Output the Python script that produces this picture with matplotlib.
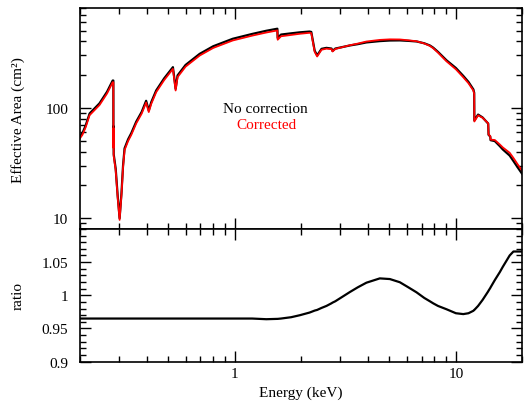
import numpy as np
import matplotlib
matplotlib.use("Agg")
import matplotlib.pyplot as plt
from matplotlib.ticker import FixedLocator, NullFormatter, LogLocator, MultipleLocator

plt.rcParams['font.family'] = ['Liberation Serif', 'DejaVu Serif']
plt.rcParams['font.size'] = 11

# energy grid (keV), effective area without correction (cm^2), ratio corrected/uncorrected
energy = [0.200, 0.205, 0.212, 0.221, 0.245, 0.265, 0.281, 0.283, 0.2832, 0.2836,
          0.2840, 0.290, 0.296, 0.302, 0.308, 0.313, 0.318, 0.330, 0.341, 0.359,
          0.380, 0.398, 0.409, 0.420, 0.442, 0.480, 0.526, 0.533, 0.541, 0.552,
          0.600, 0.695, 0.800, 0.980, 1.200, 1.390, 1.560, 1.565, 1.620, 1.800,
          1.970, 2.180, 2.220, 2.300, 2.360, 2.470, 2.600, 2.740, 2.770, 2.850,
          3.320, 3.600, 3.940, 4.530, 5.030, 5.580, 6.100, 6.640, 7.200, 7.630,
          7.890, 8.300, 9.070, 10.00, 10.80, 11.40, 12.00, 12.10, 12.12, 12.60,
          13.20, 14.00, 14.05, 14.30, 14.35, 15.00, 15.80, 16.30, 17.50, 18.20,
          19.00, 20.00]
area_nocorr = [55, 59, 69, 89, 110, 140, 177, 177, 45, 68,
               38, 28, 16, 10, 17, 30, 43, 52, 59, 75,
               92, 116, 95, 113, 144, 185, 234, 190, 149, 197,
               245, 309, 362, 423, 468, 500, 522, 430, 462, 474,
               484, 492, 488, 330, 299, 343, 350, 345, 328, 345,
               368, 378, 392, 403, 408, 409, 405, 400, 385, 368,
               352, 322, 270, 230, 195, 172, 147, 137, 77, 87,
               82, 72, 57, 55, 51, 50, 45, 42, 37, 33,
               29, 25]
ratio = [0.965, 0.965, 0.965, 0.965, 0.965, 0.965, 0.965, 0.965, 0.965, 0.965,
         0.965, 0.965, 0.965, 0.965, 0.965, 0.965, 0.965, 0.965, 0.965, 0.965,
         0.965, 0.965, 0.965, 0.965, 0.965, 0.965, 0.965, 0.965, 0.965, 0.965,
         0.965, 0.965, 0.965, 0.965, 0.965, 0.964, 0.9645, 0.9645, 0.965, 0.967,
         0.970, 0.974, 0.975, 0.977, 0.978, 0.981, 0.984, 0.988, 0.989, 0.991,
         1.005, 1.012, 1.019, 1.0255, 1.0245, 1.0197, 1.012, 1.0045, 0.996, 0.991,
         0.988, 0.984, 0.979, 0.973, 0.9717, 0.973, 0.9767, 0.978, 0.978, 0.984,
         0.993, 1.006, 1.007, 1.011, 1.012, 1.023, 1.035, 1.043, 1.060, 1.066,
         1.066, 1.066]

E = np.array(energy)
area = np.array(area_nocorr)
r = np.array(ratio)
area_corr = area * r

fig = plt.figure(figsize=(5.25, 4.02), dpi=100)
ax1 = fig.add_axes([0.1524, 0.428, 0.8428, 0.549])
ax2 = fig.add_axes([0.1524, 0.0978, 0.8428, 0.3302], sharex=ax1)

ax1.plot(E, area, color='black', lw=1.6)
ax1.plot(E, area_corr, color='red', lw=1.3)
ax1.set_xscale('log')
ax1.set_yscale('log')
ax1.set_xlim(0.2, 20)
ax1.set_ylim(8, 800)
ax1.yaxis.set_major_locator(FixedLocator([10, 100]))
ax1.set_yticklabels(['10', '100'])
ax1.yaxis.set_minor_locator(LogLocator(subs=np.arange(2, 10)))
ax1.yaxis.set_minor_formatter(NullFormatter())
ax1.set_ylabel('Effective Area (cm²)')
ax1.tick_params(labelbottom=False)

ax1.text(0.418, 0.548, 'No correction', transform=ax1.transAxes,
         ha='center', va='center', color='black')
ax1.text(0.421, 0.471, 'Corrected', transform=ax1.transAxes,
         ha='center', va='center', color='red')

ax2.plot(E, r, color='black', lw=1.6)
ax2.set_ylim(0.9, 1.1)
ax2.yaxis.set_major_locator(FixedLocator([0.9, 0.95, 1.0, 1.05]))
ax2.set_yticklabels(['0.9', '0.95', '1', '1.05'])
ax2.yaxis.set_minor_locator(MultipleLocator(0.01))
ax2.xaxis.set_major_locator(FixedLocator([1, 10]))
ax2.xaxis.set_minor_locator(LogLocator(subs=np.arange(2, 10)))
ax2.xaxis.set_minor_formatter(NullFormatter())
ax2.set_xticklabels(['1', '10'])
ax2.set_xlabel('Energy (keV)', labelpad=4.5)
ax2.set_ylabel('ratio')

for ax in (ax1, ax2):
    ax.tick_params(which='both', direction='in', top=True, right=True)
    ax.tick_params(which='major', length=8, width=1)
    ax.tick_params(which='minor', length=4, width=1)
    ax.tick_params(axis='y', which='major', pad=8.5)
    for s in ax.spines.values():
        s.set_linewidth(1.2)
    ax.yaxis.set_label_coords(-0.125, 0.5)

fig.savefig('out.png', dpi=100)
